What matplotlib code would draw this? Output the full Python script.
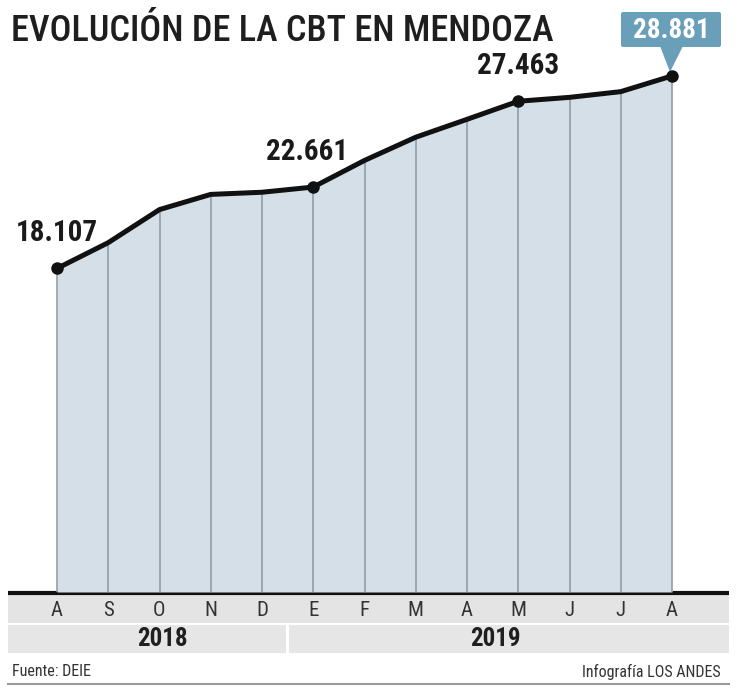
import matplotlib
matplotlib.use("Agg")
import matplotlib.pyplot as plt
from matplotlib import font_manager as fm
from matplotlib.patches import Rectangle, Polygon, FancyBboxPatch


W, H = 746, 693

months = ["A", "S", "O", "N", "D", "E", "F", "M", "A", "M", "J", "J", "A"]
cbt = [18107, 19550, 21400, 22250, 22370, 22661, 24150, 25450, 26450,
       27463, 27680, 28000, 28881]
labeled = [0, 5, 9]
highlight = 12
years = ["2018", "2019"]
year_spans = [(0, 4), (5, 12)]

title = "EVOLUCIÓN DE LA CBT EN MENDOZA"
source = "Fuente: DEIE"
credit = "Infografía LOS ANDES"

# pixel mapping of the original graphic
X0_PX, DX_PX = 57, 51.25
BASE_PX, PX_PER_K = 592, 17.87


def pick_font():
    avail = {f.name for f in fm.fontManager.ttflist}
    for name in ["Roboto Condensed", "Liberation Sans Narrow",
                 "DejaVu Sans Condensed", "Open Sans Condensed"]:
        if name in avail:
            return name
    return "Liberation Sans"


FONT = pick_font()


def fmt(v):
    return f"{v:,}".replace(",", ".")


fig = plt.figure(figsize=(W / 100, H / 100), dpi=100)
fig.patch.set_facecolor("white")

deco = fig.add_axes([0, 0, 1, 1])
deco.set_xlim(0, W)
deco.set_ylim(H, 0)
deco.axis("off")

ax = fig.add_axes([0, 0, 1, 1])
ax.patch.set_alpha(0)
ax.axis("off")
ax.set_xlim(-X0_PX / DX_PX, (W - X0_PX) / DX_PX)
ax.set_ylim((BASE_PX - H) / PX_PER_K * 1000, BASE_PX / PX_PER_K * 1000)

x = list(range(len(months)))

# area + month gridlines
ax.fill_between(x, 0, cbt, color="#d4dfe7", lw=0, zorder=1)
ax.vlines(x, 0, cbt, color="#8a97a2", lw=1.1, zorder=2)
ax.plot(x, cbt, color="#111111", lw=3.6, solid_capstyle="round",
        solid_joinstyle="round", zorder=3)
ax.plot([x[i] for i in labeled + [highlight]],
        [cbt[i] for i in labeled + [highlight]],
        "o", color="#111111", ms=8, zorder=4)

label_dx = {0: 0, 5: -0.13, 9: 0}
for i in labeled:
    ax.annotate(fmt(cbt[i]), (x[i] + label_dx[i], cbt[i]),
                xytext=(0, 35), textcoords="offset pixels",
                ha="center", va="center", fontsize=21, fontweight="bold",
                family=FONT, color="#1a1a1a", zorder=5)

# callout box for the last value
hx = 671
deco.add_patch(FancyBboxPatch((621, 12), 100, 35,
                              boxstyle="round,pad=0,rounding_size=2",
                              fc="#6a9fba", ec="none", zorder=5))
deco.add_patch(Polygon([(660, 46), (683, 46), (670, 72)], closed=True,
                       fc="#6a9fba", ec="none", zorder=5))
deco.text(hx, 30, fmt(cbt[highlight]), ha="center", va="center",
          fontsize=19.5, fontweight="bold", family=FONT, color="white",
          zorder=6)

# baseline and month strip
deco.add_patch(Rectangle((8, 594), 721, 29, fc="#e4e4e4", ec="none", zorder=1))
deco.plot([8, 729], [592.5, 592.5], color="#111111", lw=3, zorder=4,
          solid_capstyle="butt")
for i, m in enumerate(months):
    deco.text(X0_PX + i * DX_PX, 610, m, ha="center", va="center",
              fontsize=15, family=FONT, color="#333333")

# year strip
edges = [8, 285.5, 288.5, 729]
deco.add_patch(Rectangle((edges[0], 625), edges[1] - edges[0], 28,
                         fc="#e6e6e6", ec="none", zorder=1))
deco.add_patch(Rectangle((edges[2], 625), edges[3] - edges[2], 28,
                         fc="#e6e6e6", ec="none", zorder=1))
for yr, (a, b) in zip(years, year_spans):
    cx = X0_PX + (a + b) / 2 * DX_PX
    deco.text(cx + 3, 639, yr, ha="center", va="center", fontsize=18,
              fontweight="bold", family=FONT, color="#1f1f1f")

# footer
deco.text(12, 672, source, ha="left", va="center", fontsize=11.5,
          family=FONT, color="#333333")
deco.text(721, 672, credit, ha="right", va="center", fontsize=11.5,
          family=FONT, color="#333333")
deco.plot([8, 729], [684, 684], color="#9a9a9a", lw=1.5)

# title, squeezed to the original width if needed
t = deco.text(11, 31, title, ha="left", va="center", fontsize=30,
              family=FONT, fontweight="medium", color="#1e1e1e")
fig.canvas.draw()
w = t.get_window_extent().width
if w > 542:
    t.set_fontsize(30 * 542 / w)

fig.savefig("out.png", dpi=100, facecolor="white")
